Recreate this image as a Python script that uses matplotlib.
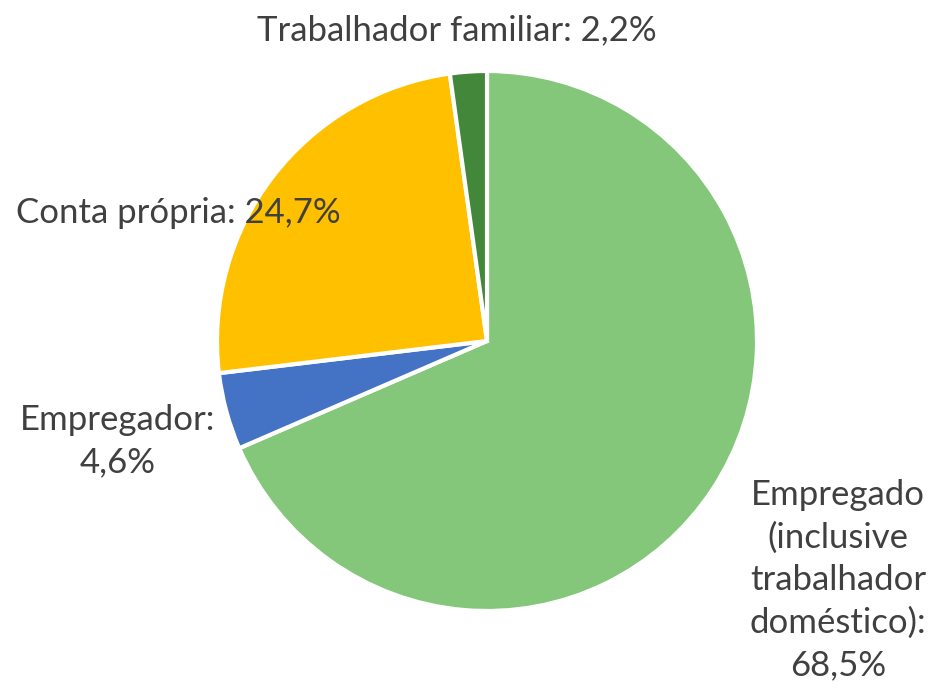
import matplotlib
matplotlib.use("Agg")
import matplotlib.pyplot as plt

categories = ["Empregado\n(inclusive\ntrabalhador\ndoméstico):", "Empregador:", "Conta própria:", "Trabalhador familiar:"]
values = [68.5, 4.6, 24.7, 2.2]
colors = ["#84C77A", "#4472C4", "#FFC000", "#43873A"]

plt.rcParams['font.family'] = ['Lato', 'DejaVu Sans']

fig = plt.figure(figsize=(9.32, 6.97), dpi=100)
W, H = 932, 697
cx, cy, R = 487, 341, 270
ax = fig.add_axes([(cx - R) / W, (H - cy - R) / H, 2 * R / W, 2 * R / H])
ax.pie(values, colors=colors, startangle=90, counterclock=False, radius=1,
       wedgeprops=dict(edgecolor="white", linewidth=3))
ax.set_xlim(-1, 1)
ax.set_ylim(-1, 1)
ax.set_aspect("equal")
ax.axis("off")

def fmt(v):
    return f"{v:.1f}".replace(".", ",") + "%"

labels = [
    (categories[0] + "\n" + fmt(values[0]), 838, 580),
    (categories[1] + "\n" + fmt(values[1]), 118, 441),
    (categories[2] + " " + fmt(values[2]), 178, 213),
    (categories[3] + " " + fmt(values[3]), 457, 30),
]
for txt, px, py in labels:
    ax.text((px - cx) / R, (cy - py) / R, txt, ha="center", va="center",
            fontsize=25, color="#404040", linespacing=1.4, clip_on=False)

fig.savefig("out.png", dpi=100, facecolor="white")
